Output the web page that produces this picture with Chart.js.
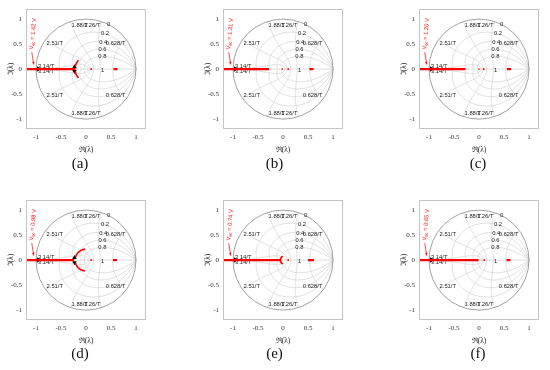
<!DOCTYPE html>
<html><head><meta charset="utf-8">
<script src="https://cdn.jsdelivr.net/npm/chart.js@4.4.1/dist/chart.umd.min.js"></script>
<style>
html,body{margin:0;padding:0;background:#fff}
body{width:550px;height:370px;position:relative;overflow:hidden}
canvas{position:absolute}
.cap{position:absolute;font-family:'Liberation Serif','DejaVu Serif',serif;font-size:15px;color:#111;transform:translate(-50%,-50%);white-space:nowrap}
</style></head><body>
<canvas id="c0" width="150" height="154"></canvas>
<canvas id="c1" width="150" height="154"></canvas>
<canvas id="c2" width="150" height="154"></canvas>
<canvas id="c3" width="150" height="154"></canvas>
<canvas id="c4" width="150" height="154"></canvas>
<canvas id="c5" width="150" height="154"></canvas>
<div class="cap" id="t0"></div><div class="cap" id="t1"></div><div class="cap" id="t2"></div>
<div class="cap" id="t3"></div><div class="cap" id="t4"></div><div class="cap" id="t5"></div>
<script>
// ---------- data ----------
const panelLabels = ['(a)','(b)','(c)','(d)','(e)','(f)'];
const vdcValues = ['1.42','1.31','1.20','0.98','0.74','0.65'];
const axisTicks = [-1, -0.5, 0, 0.5, 1];
// end of the red real-axis locus (starts at the left edge)
const realLocusEnd = [-0.21, -0.28, -0.27, -0.24, -0.04, -0.01];
// short red marks near the origin
const nearZeroMarks = [
  [[0.09, 0.12]],
  [[-0.025, -0.005], [0.09, 0.12]],
  [[-0.01, 0.01], [0.08, 0.11]],
  [[0.09, 0.12]],
  [[0.09, 0.12]],
  [[0.09, 0.12]]
];
// red segment on the positive real axis
const rightSegment = [[0.55, 0.63], [0.53, 0.61], [0.56, 0.64], [0.54, 0.62], [0.50, 0.62], [0.55, 0.63]];
// complex branches (upper half; the lower half is the conjugate)
const branchA = [[-0.215, 0.05], [-0.2, 0.1], [-0.175, 0.145], [-0.15, 0.18]];
const branchD = [[-0.21, 0.06], [-0.19, 0.11], [-0.155, 0.155], [-0.11, 0.19], [-0.06, 0.21], [-0.02, 0.22]];
const branchE = [[0.0, 0.075], [-0.03, 0.06], [-0.045, 0.03], [-0.05, 0]];
const upperBranches = [branchA, null, null, branchD, branchE, null];
// black direction arrows
const startArrowX = [-0.95, -0.95, -0.95, -0.95, -0.95, -0.95];
const branchArrow = [[-0.23, 0.045], null, null, [-0.23, 0.05], null, null];
// z-plane grid
const gridDamping = [0, 0.2, 0.4, 0.6, 0.8, 1];
const gridDampingLabels = ['0', '0.2', '0.4', '0.6', '0.8', '1'];
const gridFreqLabels = ['0.628/T', '1.26/T', '1.88/T', '2.51/T', '3.14/T'];

// ---------- layout ----------
const colLeft = [26, 223, 419];
const rowTop = [9, 200];
const capPos = [[80,163],[274.5,163],[478,163],[80,353],[274.5,353],[478,353]];
const RED = '#ff0000';

const zgridPlugin = {
  id: 'zgrid',
  beforeDatasetsDraw(chart) {
    const {ctx, chartArea: ca, scales: {x, y}} = chart;
    const P = (re, im) => [x.getPixelForValue(re), y.getPixelForValue(im)];
    ctx.save();
    ctx.beginPath(); ctx.rect(ca.left, ca.top, ca.width, ca.height); ctx.clip();
    ctx.strokeStyle = '#d0d0d0'; ctx.lineWidth = 0.7;
    for (const z of gridDamping) {
      if (z <= 0 || z >= 1) continue;
      const m = z / Math.sqrt(1 - z * z);
      for (const s of [1, -1]) {
        ctx.beginPath();
        for (let i = 0; i <= 120; i++) {
          const th = Math.PI * i / 120, r = Math.exp(-m * th);
          const [px, py] = P(r * Math.cos(th), s * r * Math.sin(th));
          i ? ctx.lineTo(px, py) : ctx.moveTo(px, py);
        }
        ctx.stroke();
      }
    }
    gridFreqLabels.forEach((lab, k) => {
      const wn = Math.PI * (k + 1) / 5;
      for (const s of [1, -1]) {
        ctx.beginPath();
        for (let i = 0; i <= 80; i++) {
          const zt = i / 80, r = Math.exp(-wn * zt), th = wn * Math.sqrt(1 - zt * zt);
          const [px, py] = P(r * Math.cos(th), s * r * Math.sin(th));
          i ? ctx.lineTo(px, py) : ctx.moveTo(px, py);
        }
        ctx.stroke();
      }
    });
    ctx.beginPath();
    let a = P(-1, 0), b = P(1, 0);
    ctx.moveTo(a[0], a[1]); ctx.lineTo(b[0], b[1]); ctx.stroke();
    const c = P(0, 0), rad = x.getPixelForValue(1) - c[0];
    ctx.strokeStyle = '#8a8a8a'; ctx.lineWidth = 0.8;
    ctx.beginPath(); ctx.arc(c[0], c[1], rad, 0, Math.PI * 2); ctx.stroke();
    ctx.restore();

    ctx.save();
    ctx.fillStyle = '#222';
    ctx.font = '5.8px "Liberation Sans", Arial, sans-serif';
    gridFreqLabels.forEach((lab, k) => {
      const wn = Math.PI * (k + 1) / 5;
      const cx = Math.cos(wn), sy = Math.sin(wn);
      for (const s of [1, -1]) {
        let px, py;
        if (k === 4) {
          [px, py] = P(-0.96, 0);
          ctx.textAlign = 'left';
          ctx.textBaseline = s > 0 ? 'bottom' : 'top';
        } else {
          [px, py] = P(cx > 0 ? cx - 0.02 : cx + 0.02, s * sy);
          ctx.textAlign = cx > 0 ? 'right' : 'left';
          ctx.textBaseline = s > 0 ? 'top' : 'bottom';
        }
        ctx.fillText(lab, px, py + (s > 0 ? 0.5 : -0.5));
      }
    });
    ctx.textAlign = 'center'; ctx.textBaseline = 'middle';
    gridDamping.forEach((z, i) => {
      const w = 1.1, r = Math.exp(-z * w), th = w * Math.sqrt(1 - z * z);
      const [px, py] = P(r * Math.cos(th), r * Math.sin(th) - (z === 1 ? 0.03 : 0));
      ctx.fillText(gridDampingLabels[i], px, py);
    });
    ctx.restore();
  },
  afterDraw(chart) {
    const {ctx, chartArea: ca} = chart;
    ctx.save();
    ctx.strokeStyle = '#c4c4c4'; ctx.lineWidth = 1;
    ctx.strokeRect(Math.round(ca.left) + 0.5, Math.round(ca.top) + 0.5, Math.round(ca.width) - 1, Math.round(ca.height) - 1);
    ctx.restore();
  }
};

const annotPlugin = {
  id: 'vdcNote',
  afterDatasetsDraw(chart, args, opts) {
    const {ctx, scales: {x, y}} = chart;
    const P = (re, im) => [x.getPixelForValue(re), y.getPixelForValue(im)];
    ctx.save();
    ctx.fillStyle = RED; ctx.strokeStyle = RED; ctx.lineWidth = 0.7;
    const [x0, y0] = P(-1.085, 0.34), [x1, y1] = P(-1.045, 0.09);
    ctx.beginPath(); ctx.moveTo(x0, y0); ctx.lineTo(x1, y1); ctx.stroke();
    const ang = Math.atan2(y1 - y0, x1 - x0);
    ctx.beginPath();
    ctx.moveTo(x1, y1);
    ctx.lineTo(x1 - 3.2 * Math.cos(ang - 0.4), y1 - 3.2 * Math.sin(ang - 0.4));
    ctx.lineTo(x1 - 3.2 * Math.cos(ang + 0.4), y1 - 3.2 * Math.sin(ang + 0.4));
    ctx.closePath(); ctx.fill();
    const [tx, ty] = P(-1.1, 0.39);
    ctx.translate(tx, ty);
    ctx.rotate(-84.5 * Math.PI / 180);
    ctx.textBaseline = 'alphabetic'; ctx.textAlign = 'left';
    const big = '5.8px "Liberation Sans", Arial, sans-serif', small = '4.2px "Liberation Sans", Arial, sans-serif';
    ctx.font = big; ctx.fillText('V', 0, 2);
    let off = ctx.measureText('V').width;
    ctx.font = small; ctx.fillText('dc', off, 3.2);
    off += ctx.measureText('dc').width;
    ctx.font = big; ctx.fillText(' = ' + opts.v + ' V', off, 2);
    ctx.restore();
  }
};

function seg(xa, xb, w) {
  return {data: [{x: xa, y: 0}, {x: xb, y: 0}], showLine: true, borderColor: RED, borderWidth: w, pointRadius: 0, borderCapStyle: 'butt'};
}

for (let i = 0; i < 6; i++) {
  const col = i % 3, row = Math.floor(i / 3);
  const cv = document.getElementById('c' + i);
  cv.style.left = (colLeft[col] - 26) + 'px';
  cv.style.top = (rowTop[row] - 8) + 'px';
  const cap = document.getElementById('t' + i);
  cap.textContent = panelLabels[i];
  cap.style.left = capPos[i][0] + 'px'; cap.style.top = capPos[i][1] + 'px';

  const datasets = [];
  datasets.push(seg(-1.25, realLocusEnd[i], 2.4));
  nearZeroMarks[i].forEach(m => datasets.push(seg(m[0], m[1], 1.6)));
  datasets.push(seg(rightSegment[i][0], rightSegment[i][1], 2.2));
  const br = upperBranches[i];
  if (br) {
    datasets.push({data: br.map(p => ({x: p[0], y: p[1]})), showLine: true, borderColor: RED, borderWidth: 1.6, pointRadius: 0});
    datasets.push({data: br.map(p => ({x: p[0], y: -p[1]})), showLine: true, borderColor: RED, borderWidth: 1.6, pointRadius: 0});
  }
  datasets.push({data: [{x: startArrowX[i], y: 0}], pointStyle: 'triangle', rotation: 90, pointRadius: 3.2, backgroundColor: '#000', borderColor: '#000', borderWidth: 0});
  const ba = branchArrow[i];
  if (ba) {
    datasets.push({data: [{x: ba[0], y: ba[1]}], pointStyle: 'triangle', rotation: 0, pointRadius: 2.6, backgroundColor: '#000', borderWidth: 0});
    datasets.push({data: [{x: ba[0], y: -ba[1]}], pointStyle: 'triangle', rotation: 180, pointRadius: 2.6, backgroundColor: '#000', borderWidth: 0});
  }

  const tickFont = {family: "'Liberation Serif', 'Times New Roman', serif", size: 7};
  new Chart(cv, {
    type: 'scatter',
    data: {datasets},
    options: {
      responsive: false, animation: false, devicePixelRatio: 1,
      events: [],
      layout: {padding: {top: 8, right: 4, left: 0, bottom: 0}},
      plugins: {legend: {display: false}, tooltip: {enabled: false}, vdcNote: {v: vdcValues[i]}},
      scales: {
        x: {
          type: 'linear', min: -1.2, max: 1.2,
          afterBuildTicks: s => { s.ticks = axisTicks.map(v => ({value: v})); },
          afterFit: s => { s.height = 26; },
          grid: {display: false, drawTicks: false}, border: {display: false},
          ticks: {font: tickFont, color: '#333', padding: 4, maxRotation: 0, autoSkip: false, callback: v => String(v)},
          title: {display: true, text: 'ℜ(λ)', font: {family: "'Liberation Serif', serif", size: 7.5}, color: '#222', padding: {top: 0, bottom: 0}}
        },
        y: {
          type: 'linear', min: -1.2, max: 1.2,
          afterBuildTicks: s => { s.ticks = axisTicks.map(v => ({value: v})); },
          afterFit: s => { s.width = 26; },
          grid: {display: false, drawTicks: false}, border: {display: false},
          ticks: {font: tickFont, color: '#333', padding: 4, autoSkip: false, callback: v => String(v)},
          title: {display: true, text: 'ℑ(λ)', font: {family: "'Liberation Serif', serif", size: 7.5}, color: '#222', padding: {top: 7, bottom: 0}}
        }
      }
    },
    plugins: [zgridPlugin, annotPlugin]
  });
}
</script>
</body></html>
